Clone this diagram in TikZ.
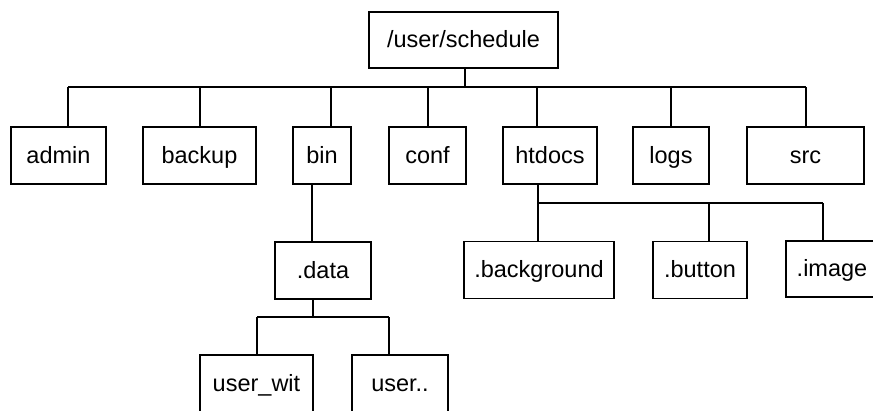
\documentclass[tikz,border=0pt]{standalone}
\usepackage{fontspec}
\setmainfont{Liberation Sans}
\begin{document}
\begin{tikzpicture}[x=1pt,y=-1pt,
  box/.style={draw,line width=1.6pt,inner sep=0pt,minimum height=57pt,
    text height=17pt,text depth=2pt,font=\fontsize{23.5}{28}\selectfont},
  link/.style={line width=1.6pt}]
\clip (0,0) rectangle (873,410);
\fill[white] (0,0) rectangle (873,410);
% nodes
\node[box,minimum width=189pt,minimum height=56pt] (root) at (463.5,40) {/user/schedule};
\node[box,minimum width=95pt]  (admin)  at (58.5,155.5) {admin};
\node[box,minimum width=113pt] (backup) at (199.5,155.5) {backup};
\node[box,minimum width=58pt]  (bin)    at (322,155.5) {bin};
\node[box,minimum width=77pt]  (conf)   at (427.5,155.5) {conf};
\node[box,minimum width=94pt]  (htdocs) at (550,155.5) {htdocs};
\node[box,minimum width=76pt]  (logs)   at (671,155.5) {logs};
\node[box,minimum width=117pt] (src)    at (805.5,155.5) {src};
\node[box,minimum width=96pt]  (data)   at (323,270.5) {.data};
\node[box,minimum width=113pt] (userwit) at (256.5,383.5) {user\_wit};
\node[box,minimum width=96pt]  (userdd)  at (400,383.5) {user..};
\node[box,minimum width=150pt] (bg)     at (539,270) {.background};
\node[box,minimum width=94pt]  (button) at (700,270) {.button};
\node[box,minimum width=92pt,minimum height=56pt] (image) at (832,269) {.image};
% bus coordinates
\coordinate (busA) at (0,87);
\coordinate (busB) at (0,317);
\coordinate (busC) at (0,203);
% root level
\draw[link] (465,0 |- root.south) -- (465,0 |- busA);
\draw[link] (68,0 |- busA) -- (806,0 |- busA);
\foreach \x/\n in {68/admin,200/backup,331/bin,428/conf,537/htdocs,671/logs,806/src}
  \draw[link] (\x,0 |- busA) -- (\x,0 |- \n.north);
% bin -> data
\draw[link] (312,0 |- bin.south) -- (312,0 |- data.north);
% data children
\draw[link] (313,0 |- data.south) -- (313,0 |- busB);
\draw[link] (257,0 |- busB) -- (389,0 |- busB);
\draw[link] (257,0 |- busB) -- (257,0 |- userwit.north);
\draw[link] (389,0 |- busB) -- (389,0 |- userdd.north);
% htdocs children
\draw[link] (538,0 |- htdocs.south) -- (538,0 |- busC);
\draw[link] (538,0 |- busC) -- (823,0 |- busC);
\draw[link] (538,0 |- busC) -- (538,0 |- bg.north);
\draw[link] (709,0 |- busC) -- (709,0 |- button.north);
\draw[link] (823,0 |- busC) -- (823,0 |- image.north);
\end{tikzpicture}
\end{document}
